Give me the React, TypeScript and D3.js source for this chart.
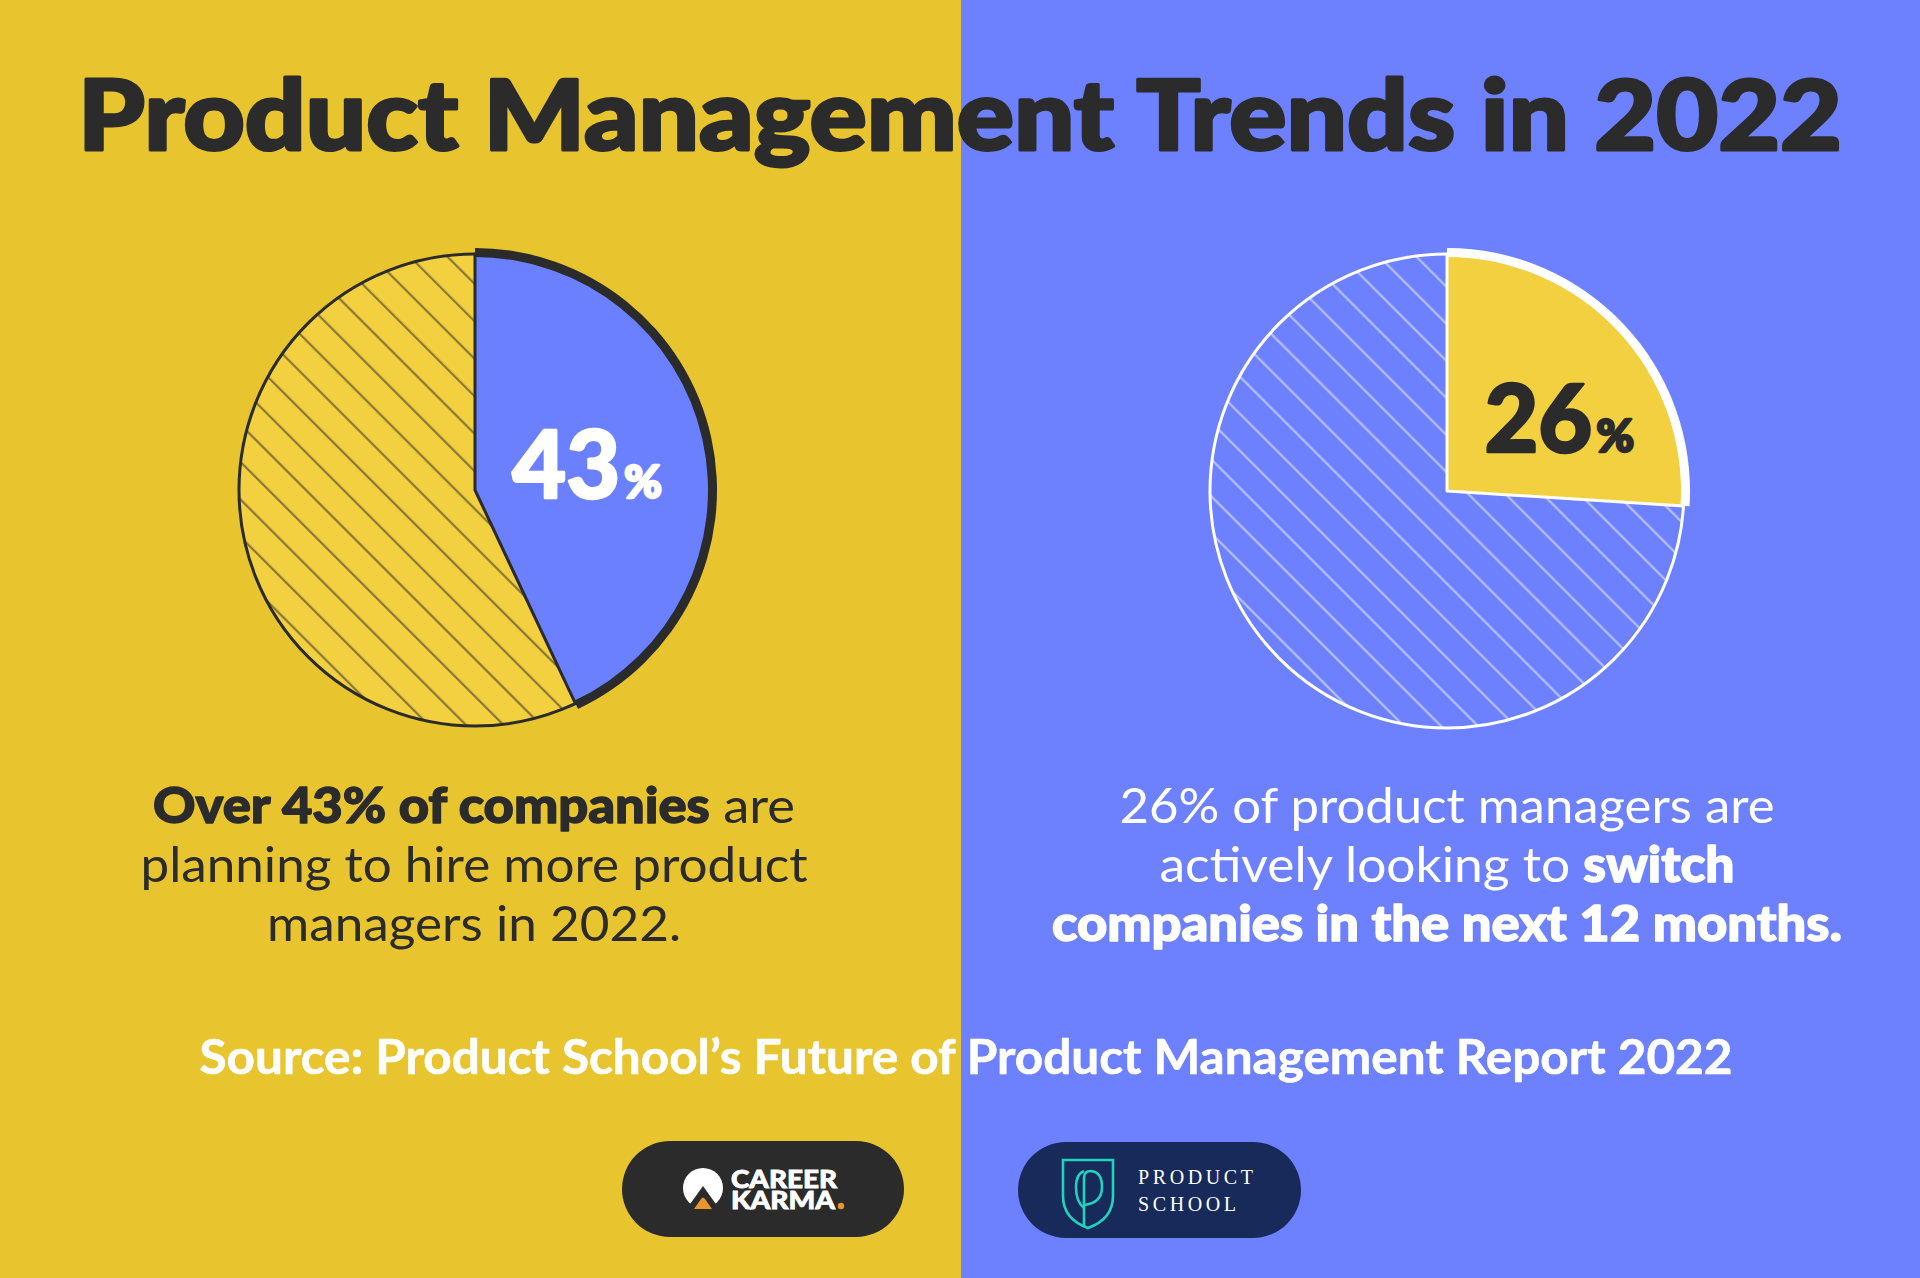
import React from "react";
import * as d3 from "d3";

const W = 1920;
const H = 1278;

// ---- data ----
const leftCategories = ["Hiring more PMs", "Other"];
const leftValues = [43, 57];
const rightCategories = ["Looking to switch", "Other"];
const rightValues = [26, 74];

const titleText = "Product Management Trends in 2022";
const leftLabel = "43";
const rightLabel = "26";
const sourceText = "Source: Product School\u2019s Future of Product Management Report 2022";

// body lines as [text, bold] segments
const leftLines: [string, boolean][][] = [
  [["Over 43% of companies", true], [" are", false]],
  [["planning to hire more product", false]],
  [["managers in 2022.", false]],
];
const leftWidths = [642, 667, 414];
const rightLines: [string, boolean][][] = [
  [["26% of product managers are", false]],
  [["actively looking to ", false], ["switch", true]],
  [["companies in the next 12 months.", true]],
];
const rightWidths = [655, 575, 790];

// ---- styles ----
const BG_YELLOW = "#E8C52F";
const BG_BLUE = "#6D81FE";
const PIE_YELLOW = "#F3D03F";
const PIE_BLUE = "#6B80FF";
const DARK = "#2B2B2B";
const FONT = "Lato, 'Open Sans', sans-serif";

const pie = d3.pie<number>().sort(null).value((d) => d);

function PieChart({
  cx, cy, r, values, hiFill, loFill, edge, hatchId, label, labelColor, labelDx, labelDy,
}: any) {
  const arcs = pie(values);
  const arcGen = d3.arc<any>().innerRadius(0).outerRadius(r);
  const ringGen = d3.arc<any>().innerRadius(r - 3).outerRadius(r + 6);
  const hi = arcs[0];
  const lo = arcs[1];
  const [lx, ly] = arcGen.centroid(hi);
  return (
    <g transform={`translate(${cx},${cy})`}>
      <path d={arcGen(lo) as string} fill={loFill} />
      <path d={arcGen(lo) as string} fill={`url(#${hatchId})`} />
      <circle r={r} fill="none" stroke={edge} strokeWidth={3} />
      <path d={arcGen(hi) as string} fill={hiFill} stroke={edge} strokeWidth={3} strokeLinejoin="round" />
      <path d={ringGen({ ...hi, padAngle: 0 }) as string} fill={edge} />
      <text
        x={lx + labelDx}
        y={ly + labelDy}
        textAnchor="middle"
        fill={labelColor}
        stroke={labelColor}
        strokeWidth={2.5}
        strokeLinejoin="round"
        fontFamily={FONT}
        fontWeight={900}
      >
        <tspan fontSize={93}>{label}</tspan>
        <tspan fontSize={46} dx={4}>%</tspan>
      </text>
    </g>
  );
}

function Body({ x, y0, lines, widths, color }: any) {
  return (
    <g>
      {lines.map((segs: [string, boolean][], i: number) => (
        <text
          key={i}
          x={x}
          y={y0 + i * 59}
          textAnchor="middle"
          fontFamily={FONT}
          fontSize={49}
          fill={color}
          textLength={widths[i]}
          lengthAdjust="spacingAndGlyphs"
          style={{ whiteSpace: "pre" }}
        >
          {segs.map(([t, b], j) => (
            <tspan
              key={j}
              fontWeight={b ? 900 : 400}
              stroke={b ? color : "none"}
              strokeWidth={b ? 1.4 : 0}
              strokeLinejoin="round"
            >
              {t}
            </tspan>
          ))}
        </text>
      ))}
    </g>
  );
}

export default function App() {
  const split = 961;
  return (
    <svg
      width={W}
      height={H}
      viewBox={`0 0 ${W} ${H}`}
      style={{ position: "absolute", left: 0, top: 0, display: "block" }}
    >
      <defs>
        <pattern id="hatchDark" patternUnits="userSpaceOnUse" width={26.5} height={26.5} patternTransform="rotate(-45)">
          <line x1={13} y1={0} x2={13} y2={26.5} stroke="rgba(43,43,43,0.6)" strokeWidth={2} />
        </pattern>
        <pattern id="hatchLight" patternUnits="userSpaceOnUse" width={26.2} height={26.2} patternTransform="rotate(-45)">
          <line x1={13} y1={0} x2={13} y2={26.2} stroke="rgba(255,255,255,0.55)" strokeWidth={2} />
        </pattern>
      </defs>

      <rect x={0} y={0} width={split} height={H} fill={BG_YELLOW} />
      <rect x={split} y={0} width={W - split} height={H} fill={BG_BLUE} />

      <text
        x={960}
        y={150}
        textAnchor="middle"
        fontFamily={FONT}
        fontWeight={900}
        fontSize={98}
        fill={DARK}
        stroke={DARK}
        strokeWidth={3}
        strokeLinejoin="round"
        textLength={1764}
        lengthAdjust="spacingAndGlyphs"
      >
        {titleText}
      </text>

      <PieChart
        cx={475} cy={490} r={236}
        values={leftValues}
        hiFill={PIE_BLUE} loFill={PIE_YELLOW} edge={DARK}
        hatchId="hatchDark" label={leftLabel} labelColor="#FFFFFF"
        labelDx={-3} labelDy={34}
      />
      <PieChart
        cx={1447} cy={491} r={237}
        values={rightValues}
        hiFill={PIE_YELLOW} loFill={BG_BLUE} edge="#FFFFFF"
        hatchId="hatchLight" label={rightLabel} labelColor={DARK}
        labelDx={26} labelDy={42}
      />

      <Body x={474} y0={823} lines={leftLines} widths={leftWidths} color={DARK} />
      <Body x={1447} y0={823} lines={rightLines} widths={rightWidths} color="#FFFFFF" />

      <text
        x={966}
        y={1074}
        textAnchor="middle"
        fontFamily={FONT}
        fontWeight={700}
        fontSize={47}
        fill="#FFFFFF"
        stroke="#FFFFFF"
        strokeWidth={0.6}
        textLength={1533}
        lengthAdjust="spacingAndGlyphs"
      >
        {sourceText}
      </text>

      {/* Career Karma pill */}
      <rect x={622} y={1141} width={282} height={96} rx={48} fill={DARK} />
      <g>
        <circle cx={703} cy={1188} r={20} fill="#FFFFFF" />
        <path d="M703,1186 L723,1214 L683,1214 Z" fill={DARK} />
        <path d="M694,1209 L701,1199 Q703,1196 705,1199 L712,1209 Z" fill="#E8952E" />
        <rect x={680} y={1209} width={46} height={8} fill={DARK} />
        <text fontFamily={FONT} fontWeight={900} fontSize={25} fill="#FFFFFF" stroke="#FFFFFF" strokeWidth={0.8}>
          <tspan x={731} y={1188} textLength={106} lengthAdjust="spacingAndGlyphs">CAREER</tspan>
          <tspan x={731} y={1209} textLength={104} lengthAdjust="spacingAndGlyphs">KARMA</tspan>
        </text>
        <circle cx={841} cy={1206} r={3.2} fill="#E8952E" />
      </g>

      {/* Product School pill */}
      <rect x={1018} y={1142} width={283} height={96} rx={48} fill="#172A5A" />
      <g fill="none" stroke="#1FD3BF" strokeWidth={2.6}>
        <path d="M1063,1160 H1113 V1196 Q1113,1219 1088,1228 Q1063,1219 1063,1196 Z" />
        <path d="M1084,1226 V1178 Q1084,1171 1091,1171 Q1102,1172 1102,1187 Q1102,1203 1084,1205" />
        <path d="M1084,1171 Q1076,1174 1076,1187 Q1076,1202 1084,1208" />
      </g>
      <text x={1138} y={1184} fontFamily="'Liberation Serif', serif" fontSize={20} letterSpacing={3.6} fill="#FFFFFF">PRODUCT</text>
      <text x={1138} y={1211} fontFamily="'Liberation Serif', serif" fontSize={20} letterSpacing={3.6} fill="#FFFFFF">SCHOOL</text>
    </svg>
  );
}
